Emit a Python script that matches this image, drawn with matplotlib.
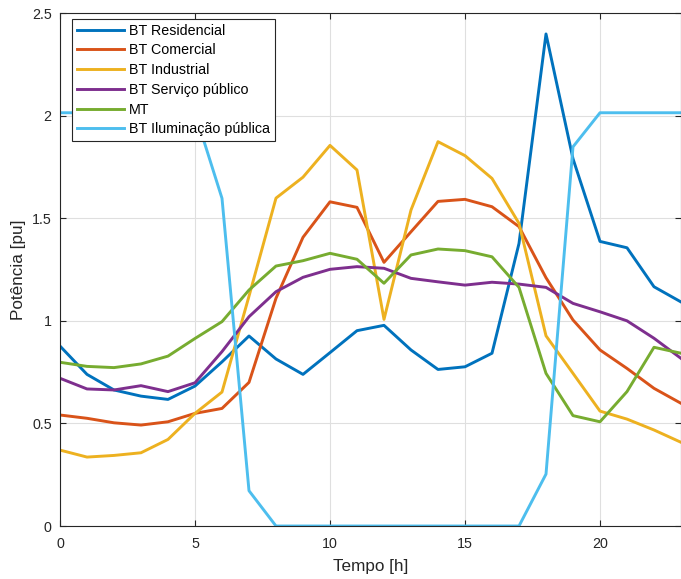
import matplotlib
matplotlib.use("Agg")
import matplotlib.pyplot as plt
import numpy as np

plt.rcParams['font.family'] = ['Liberation Sans', 'DejaVu Sans']

hours = list(range(24))
labels = ["BT Residencial", "BT Comercial", "BT Industrial",
          "BT Serviço público", "MT", "BT Iluminação pública"]

bt_residencial = [0.877, 0.739, 0.663, 0.633, 0.617, 0.682, 0.80, 0.926, 0.814, 0.739,
                  0.845, 0.952, 0.978, 0.858, 0.763, 0.776, 0.842, 1.377, 2.398, 1.79,
                  1.387, 1.356, 1.166, 1.092]
bt_comercial = [0.541, 0.525, 0.503, 0.492, 0.508, 0.549, 0.573, 0.70, 1.11, 1.407,
                1.58, 1.553, 1.285, 1.434, 1.582, 1.592, 1.556, 1.459, 1.21, 1.004,
                0.858, 0.768, 0.671, 0.598]
bt_industrial = [0.37, 0.336, 0.344, 0.357, 0.422, 0.549, 0.653, 1.12, 1.598, 1.70,
                 1.855, 1.735, 1.007, 1.54, 1.873, 1.805, 1.694, 1.475, 0.927, 0.744,
                 0.56, 0.521, 0.468, 0.408]
bt_servico = [0.72, 0.668, 0.663, 0.684, 0.655, 0.698, 0.85, 1.02, 1.142, 1.212,
              1.251, 1.264, 1.256, 1.207, 1.19, 1.174, 1.188, 1.179, 1.163, 1.085,
              1.044, 1.0, 0.915, 0.817]
mt = [0.798, 0.778, 0.772, 0.79, 0.828, 0.914, 0.996, 1.15, 1.267, 1.293,
      1.329, 1.30, 1.183, 1.321, 1.35, 1.342, 1.312, 1.163, 0.744, 0.538,
      0.508, 0.655, 0.871, 0.842]
bt_iluminacao = [2.014, 2.014, 2.014, 2.014, 2.014, 2.014, 1.597, 0.172, 0.0, 0.0,
                 0.0, 0.0, 0.0, 0.0, 0.0, 0.0, 0.0, 0.0, 0.253, 1.848,
                 2.014, 2.014, 2.014, 2.014]

series = [bt_residencial, bt_comercial, bt_industrial, bt_servico, mt, bt_iluminacao]
colors = ["#0072BD", "#D95319", "#EDB120", "#7E2F8E", "#77AC30", "#4DBEEE"]

xticks = [0, 5, 10, 15, 20]
yticks = [0, 0.5, 1, 1.5, 2, 2.5]
ytick_labels = ["0", "0.5", "1", "1.5", "2", "2.5"]

fig = plt.figure(figsize=(6.81, 5.79), dpi=100)
ax = fig.add_axes([0.0881, 0.0915, 0.9119, 0.886])

for s, c, l in zip(series, colors, labels):
    ax.plot(hours, s, color=c, lw=2.1, label=l)

ax.set_xlim(0, 23)
ax.set_ylim(0, 2.5)
ax.set_xticks(xticks)
ax.set_xticklabels([str(t) for t in xticks])
ax.set_yticks(yticks)
ax.set_yticklabels(ytick_labels)
ax.grid(True, color="#dfdfdf", lw=0.8)
ax.set_axisbelow(True)
ax.tick_params(direction="in", top=True, right=True, colors="#262626",
               labelsize=10.3, length=4, width=0.8)
ax.tick_params(axis="x", pad=8)
ax.tick_params(axis="y", pad=6)
for sp in ax.spines.values():
    sp.set_color("#262626")
    sp.set_linewidth(0.8)

ax.set_xlabel("Tempo [h]", fontsize=12.3, color="#262626")
ax.set_ylabel("Potência [pu]", fontsize=12.3, color="#262626")
ax.xaxis.set_label_coords(0.5, -0.0634)
ax.yaxis.set_label_coords(-0.0555, 0.5)

leg = ax.legend(loc="upper left", bbox_to_anchor=(0.0193, 0.988), fontsize=10.3,
                frameon=True, fancybox=False, framealpha=1, edgecolor="#262626",
                handlelength=3.3, labelspacing=0.40, borderpad=0.32, handletextpad=0.38,
                borderaxespad=0)
leg.get_frame().set_linewidth(0.8)

fig.savefig("out.png", dpi=100)
